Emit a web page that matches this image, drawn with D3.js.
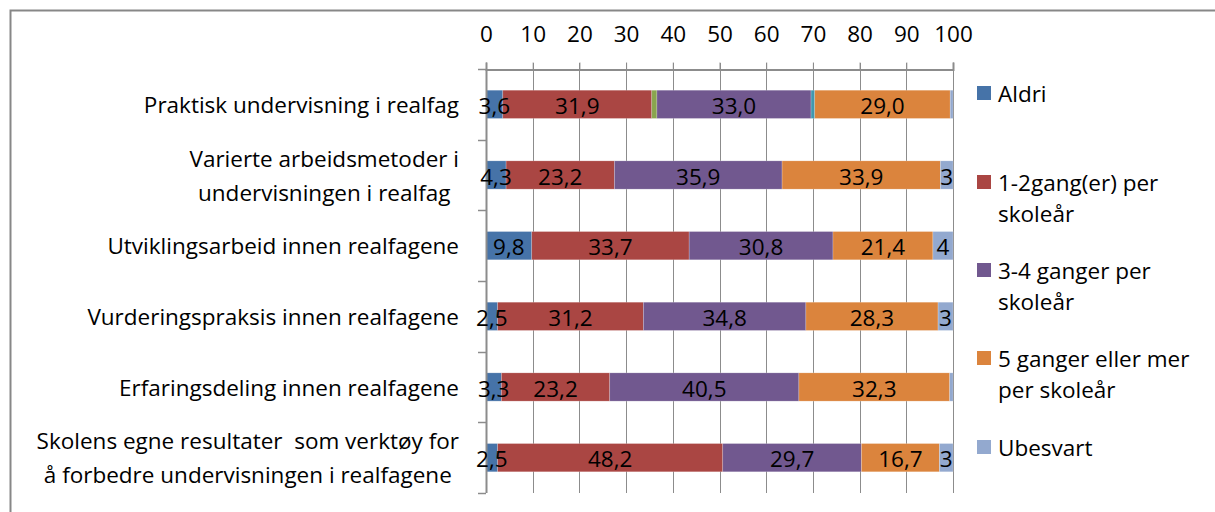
<!DOCTYPE html>
<html><head><meta charset="utf-8">
<script src="https://cdn.jsdelivr.net/npm/d3@7"></script>
<style>
html,body{margin:0;padding:0;background:#fff;}
text{font-family:"Open Sans",Lato,sans-serif;fill:#000;white-space:pre;}
</style></head>
<body>
<svg id="c" width="1215" height="512"></svg>
<script>
const categories = [
  ["Praktisk undervisning i realfag"],
  ["Varierte arbeidsmetoder i", "undervisningen i realfag"],
  ["Utviklingsarbeid innen realfagene"],
  ["Vurderingspraksis innen realfagene"],
  ["Erfaringsdeling innen realfagene"],
  ["Skolens egne resultater  som verktøy for", "å forbedre undervisningen i realfagene"]
];
const seriesNames = ["Aldri", "1-2gang(er) per skoleår", "(ukjent A)", "3-4 ganger per skoleår", "(ukjent B)", "5 ganger eller mer per skoleår", "Ubesvart"];
const aldri    = [3.6, 4.3, 9.8, 2.5, 3.3, 2.5];
const g12      = [31.9, 23.2, 33.7, 31.2, 23.2, 48.2];
const extraA   = [1.1, 0, 0, 0, 0, 0];
const g34      = [33.0, 35.9, 30.8, 34.8, 40.5, 29.7];
const extraB   = [0.8, 0, 0, 0, 0, 0];
const g5       = [29.0, 33.9, 21.4, 28.3, 32.3, 16.7];
const ubesvart = [0.6, 2.7, 4.3, 3.2, 0.7, 2.9];
const xTicks = [0, 10, 20, 30, 40, 50, 60, 70, 80, 90, 100];
const legendItems = [
  {series: 0, lines: ["Aldri"]},
  {series: 1, lines: ["1-2gang(er) per", "skoleår"]},
  {series: 3, lines: ["3-4 ganger per", "skoleår"]},
  {series: 5, lines: ["5 ganger eller mer", "per skoleår"]},
  {series: 6, lines: ["Ubesvart"]}
];

const colors = ["#4673A8", "#AA4643", "#89A54E", "#71588F", "#4198AF", "#DB843D", "#93A9CF"];
const seriesData = [aldri, g12, extraA, g34, extraB, g5, ubesvart];

const svg = d3.select("#c");
const FS = 22.5;

// outer border
svg.append("rect").attr("x", 10.5).attr("y", 10.5).attr("width", 1220).attr("height", 520)
  .attr("fill", "none").attr("stroke", "#878787").attr("stroke-width", 2);

const x = d3.scaleLinear().domain([0, 100]).range([486, 953]);
const keys = categories.map((c, i) => i);
const y = d3.scaleBand().domain(keys).range([69, 493]).paddingInner(0.6).paddingOuter(0.3);

// gridlines
svg.append("g").selectAll("line").data(xTicks).join("line")
  .attr("x1", d => Math.round(x(d)) + 0.5).attr("x2", d => Math.round(x(d)) + 0.5)
  .attr("y1", 63).attr("y2", 493).attr("stroke", "#8c8c8c").attr("stroke-width", 1);

// top axis
const ax = svg.append("g").attr("transform", "translate(0,69.5)")
  .call(d3.axisTop(x).tickValues(xTicks).tickSize(7).tickPadding(21));
ax.select(".domain").attr("stroke", "#8c8c8c").attr("stroke-width", 2);
ax.selectAll(".tick line").attr("stroke", "#8c8c8c");
ax.selectAll(".tick text").attr("font-size", FS).attr("font-family", "Open Sans").attr("fill", "#000");

// stacked bars
const rows = keys.map(i => {
  let acc = 0;
  return seriesData.map((s, k) => {
    const v = s[i];
    const seg = {cat: i, series: k, v, x0: acc, x1: acc + v};
    acc += v;
    return seg;
  });
});
const segs = rows.flat().filter(d => d.v > 0);
svg.append("g").selectAll("rect").data(segs).join("rect")
  .attr("x", d => x(d.x0)).attr("width", d => x(d.x1) - x(d.x0))
  .attr("y", d => y(d.cat)).attr("height", y.bandwidth())
  .attr("fill", d => colors[d.series])
  .attr("stroke", "rgba(255,255,255,0.35)").attr("stroke-width", 0.6);

// left axis
svg.append("line").attr("x1", 486.5).attr("x2", 486.5).attr("y1", 69).attr("y2", 493)
  .attr("stroke", "#8c8c8c").attr("stroke-width", 2);
const bounds = d3.range(keys.length + 1).map(i => 69 + i * y.step());
svg.append("g").selectAll("line").data(bounds).join("line")
  .attr("x1", 478).attr("x2", 486).attr("y1", d => Math.round(d) + 0.5).attr("y2", d => Math.round(d) + 0.5)
  .attr("stroke", "#8c8c8c").attr("stroke-width", 1.5);

// data labels
const fmt = d => d.toFixed(1).replace(".", ",");
const labeled = segs.filter(d => (d.series !== 2 && d.series !== 4) && (d.series !== 6 || d.v >= 1.5));
svg.append("g").selectAll("text").data(labeled).join("text")
  .attr("x", d => x((d.x0 + d.x1) / 2)).attr("y", d => y(d.cat) + y.bandwidth() / 2 + 1)
  .attr("text-anchor", "middle").attr("dominant-baseline", "central")
  .attr("font-size", FS)
  .text(d => d.series === 6 ? String(Math.round(d.v)) : fmt(d.v));

// category labels
const catG = svg.append("g");
const LH = 34;
categories.forEach((lines, i) => {
  const cy = y(i) + y.bandwidth() / 2;
  const g = catG.append("g");
  const ts = lines.map((l, j) => g.append("text")
    .attr("y", cy + (j - (lines.length - 1) / 2) * LH)
    .attr("dominant-baseline", "central").attr("font-size", FS)
    .attr("text-anchor", "middle").text(l));
  const maxW = d3.max(ts, t => t.node().getComputedTextLength());
  ts.forEach(t => t.attr("x", 459 - maxW / 2));
});

// legend
const legTop = [93, 182, 270, 358, 447];
const lg = svg.append("g");
legendItems.forEach((it, i) => {
  const ty = legTop[i];
  lg.append("rect").attr("x", 977).attr("y", ty - 7).attr("width", 14).attr("height", 14)
    .attr("fill", colors[it.series]);
  it.lines.forEach((l, j) => {
    lg.append("text").attr("x", 998).attr("y", ty + j * 31)
      .attr("dominant-baseline", "central").attr("font-size", FS).text(l);
  });
});
</script>
</body></html>
